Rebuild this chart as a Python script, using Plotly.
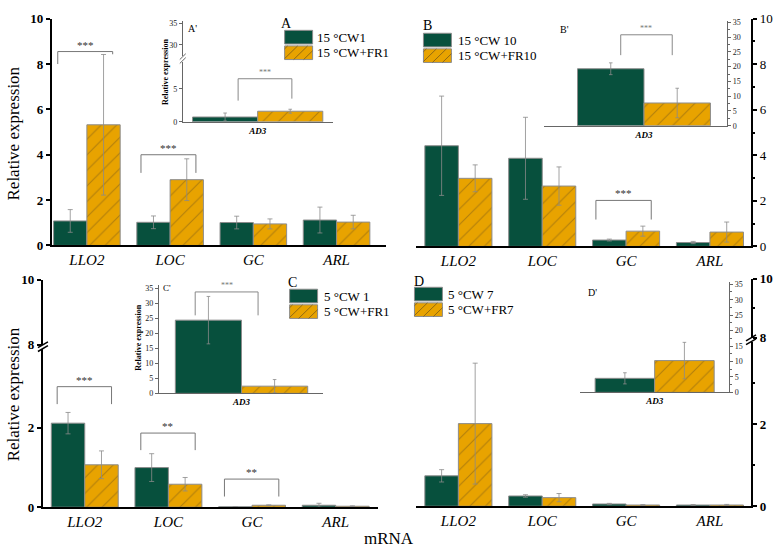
import plotly.graph_objects as go

W, H = 773, 560
GREEN = "#07503d"
ORANGE = "#e8a300"
EDGE = "#8c8c8c"
HATCH = "#7a5a18"
ERR = "#8a8a8a"
FONT = "Liberation Serif"

genes = ["LLO2", "LOC", "GC", "ARL"]
inset_gene = ["AD3"]
legend_labels = {
    "A": ["15 °CW1", "15 °CW+FR1"],
    "B": ["15 °CW 10", "15 °CW+FR10"],
    "C": ["5 °CW 1", "5 °CW+FR1"],
    "D": ["5 °CW 7", "5 °CW+FR7"],
}

# main panels (mean, sd)
A_cw = [1.08, 1.02, 1.01, 1.12]
A_cw_err = [0.50, 0.28, 0.28, 0.57]
A_fr = [5.32, 2.90, 0.95, 1.03]
A_fr_err = [3.10, 0.92, 0.22, 0.30]

B_cw = [4.42, 3.87, 0.28, 0.17]
B_cw_err = [2.18, 1.80, 0.04, 0.05]
B_fr = [2.99, 2.65, 0.67, 0.63]
B_fr_err = [0.59, 0.84, 0.22, 0.44]

C_cw = [2.12, 1.00, 0.01, 0.05]
C_cw_err = [0.27, 0.35, 0.005, 0.05]
C_fr = [1.07, 0.58, 0.05, 0.025]
C_fr_err = [0.35, 0.17, 0.01, 0.01]

D_cw = [0.74, 0.25, 0.055, 0.03]
D_cw_err = [0.15, 0.03, 0.015, 0.01]
D_fr = [2.01, 0.21, 0.03, 0.03]
D_fr_err = [1.47, 0.10, 0.01, 0.015]

# insets AD3
A_ad3 = [0.73, 1.60]
A_ad3_err = [0.60, 0.30]
B_ad3 = [19.3, 7.7]
B_ad3_err = [2.0, 5.0]
C_ad3 = [24.4, 2.4]
C_ad3_err = [7.9, 2.2]
D_ad3 = [4.55, 10.3]
D_ad3_err = [1.8, 5.9]

# significance: (gene, bracket level, left leg end, right leg end, label)
sig_A = [("LLO2", 8.55, 8.0, 8.43, "***"), ("LOC", 4.0, 3.2, 3.2, "***")]
sig_B = [("GC", 2.02, 1.18, 1.18, "***")]
sig_C = [("LLO2", 3.04, 2.6, 2.6, "***"), ("LOC", 1.87, 1.44, 1.44, "**"), ("GC", 0.71, 0.27, 0.27, "**")]
sig_Ai = [("AD3", 6.5, 3.2, 3.5, "***")]
sig_Bi = [("AD3", 30.8, 23.9, 23.9, "***")]
sig_Ci = [("AD3", 33.8, 26.0, 26.0, "***")]

fig = go.Figure()
layout = {}
shapes = []
annotations = []
counters = {"x": 0, "y": 0}


def px(x):
    return x / W


def py(y):
    return 1 - y / H


def new_id(kind):
    counters[kind] += 1
    n = counters[kind]
    return (kind if n == 1 else f"{kind}{n}"), (f"{kind}axis" if n == 1 else f"{kind}axis{n}")


def add_bars(xid, yid, cats, cw, cw_err, fr, fr_err, cap=2.5):
    x = list(range(len(cats)))
    fig.add_bar(x=x, y=cw, offset=-0.4, width=0.4, xaxis=xid, yaxis=yid, showlegend=False,
                marker=dict(color=GREEN, line=dict(color=EDGE, width=1)),
                error_y=dict(type="data", array=cw_err, color=ERR, thickness=0.8, width=cap))
    fig.add_bar(x=x, y=fr, offset=0, width=0.4, xaxis=xid, yaxis=yid, showlegend=False,
                marker=dict(color=ORANGE, line=dict(color=EDGE, width=1),
                            pattern=dict(shape="/", fgcolor=HATCH, size=11, solidity=0.1)),
                error_y=dict(type="data", array=fr_err, color=ERR, thickness=0.8, width=cap))


def add_sig(xid, yid, cats, sigs, left, right, color, size, shift, star_color):
    for gene, level, lend, rend, label in sigs:
        c = cats.index(gene)
        fig.add_scatter(x=[c + left, c + left, c + right, c + right], y=[lend, level, level, rend],
                        mode="lines", line=dict(color=color, width=1), xaxis=xid, yaxis=yid,
                        showlegend=False, hoverinfo="skip")
        annotations.append(dict(text=label, x=c + (left + right) / 2, y=level, xref=xid, yref=yid,
                                showarrow=False, yshift=shift, xanchor="center", yanchor="middle",
                                font=dict(family=FONT, size=size, color=star_color)))


def panel(x0, x1, xr, segs, side, cats, data, inset=False, bold=False, minor=None):
    xid, xkey = new_id("x")
    yids = []
    if inset:
        lc, lw, tf, tl = "#666666", 1, dict(family=FONT, size=8, color="#222222"), 3
    else:
        lc, lw, tl = "black", 2, 4
        tf = dict(family=FONT, size=13, color="black", weight="bold" if bold else "normal")
    for i, (ybot, ytop, rng, tvals) in enumerate(segs):
        yid, ykey = new_id("y")
        ax = dict(domain=[py(ybot), py(ytop)], range=rng, anchor=xid, side=side, tickvals=tvals,
                  ticks="outside", ticklen=tl, tickwidth=lw if not inset else 1, tickcolor=lc,
                  showline=True, linewidth=lw, linecolor=lc, showgrid=False, zeroline=False,
                  tickfont=tf, fixedrange=True)
        if minor is not None and minor[i]:
            ax["minor"] = dict(tickvals=minor[i], ticks="outside", ticklen=2 if not inset else 1.5,
                               tickwidth=lw if not inset else 1, tickcolor=lc)
        layout[ykey] = ax
        yids.append(yid)
    if inset:
        xtf = dict(family=FONT, size=9, color="black")
        ttext = [f"<b><i>{g}</i></b>" for g in cats]
    else:
        xtf = dict(family=FONT, size=15, color="black")
        ttext = [f"<i>{g}</i>" for g in cats]
    layout[xkey] = dict(domain=[px(x0), px(x1)], range=xr, anchor=yids[0],
                        tickvals=list(range(len(cats))), ticktext=ttext, ticks="",
                        showline=True, linewidth=lw, linecolor=lc if inset else "black",
                        showgrid=False, zeroline=False, tickfont=xtf, fixedrange=True)
    add_bars(xid, yids[0], cats, *data, cap=1.8 if inset else 2.5)
    for yid in yids[1:]:
        fig.add_scatter(x=[], y=[], xaxis=xid, yaxis=yid, showlegend=False, hoverinfo="skip")
    return xid, yids


def ann(text, x, y, size, color="black", xanchor="center", **kw):
    annotations.append(dict(text=text, x=px(x), y=py(y), xref="paper", yref="paper", showarrow=False,
                            xanchor=xanchor, yanchor="middle",
                            font=dict(family=FONT, size=size, color=color), **kw))


def legend(key, lx, ly, box_x, box_y0, text_x):
    ann(key, lx, ly, 14)
    bw, bh = 28, 14
    labels = legend_labels[key]
    for k, (fill, lab) in enumerate(zip([GREEN, ORANGE], labels)):
        y0 = box_y0 + k * (bh + 2)
        shapes.append(dict(type="rect", xref="paper", yref="paper", x0=px(box_x), x1=px(box_x + bw),
                           y0=py(y0 + bh), y1=py(y0), fillcolor=fill, line=dict(color=EDGE, width=1)))
        if k == 1:
            path = ""
            step = 10
            a = box_x - bh + 3
            while a < box_x + bw:
                t0 = max(0, box_x - a)
                t1 = min(bh, box_x + bw - a)
                if t1 > t0:
                    path += f"M{px(a + t0)},{py(y0 + bh - t0)} L{px(a + t1)},{py(y0 + bh - t1)} "
                a += step
            shapes.append(dict(type="path", xref="paper", yref="paper", path=path,
                               line=dict(color=HATCH, width=0.8)))
        ann(lab, text_x, y0 + bh / 2, 13, xanchor="left")


def brk(x, y, color="black", w=5, width=1.5):
    for dy in (-2, 2):
        shapes.append(dict(type="line", xref="paper", yref="paper", x0=px(x - w), y0=py(y + dy + 3),
                           x1=px(x + w), y1=py(y + dy - 3), line=dict(color=color, width=width)))


# ---- panel A ----
xa, ya = panel(52, 387, [-0.42, 3.6], [(245, 12, [0, 10], [0, 2, 4, 6, 8, 10])], "left", genes,
               (A_cw, A_cw_err, A_fr, A_fr_err), bold=True)
add_sig(xa, ya[0], genes, sig_A, -0.35, 0.31, "#777777", 11, 7, "#333333")
xai, yai = panel(183, 333, [-0.46, 0.46], [(118, 56, [0, 9.1], [0, 5]), (50, 14, [27.5, 35.7], [30, 35])],
                 "left", inset_gene, (A_ad3[:1], A_ad3_err[:1], A_ad3[1:], A_ad3_err[1:]), inset=True)
add_sig(xai, yai[0], inset_gene, sig_Ai, -0.12, 0.21, "#888888", 8, 6, "#777777")
brk(183, 53, "#666666", 3, 1)

# ---- panel B ----
xb, yb = panel(417, 752, [-0.5, 3.49], [(246, 12, [0, 10], [0, 2, 4, 6, 8, 10])], "right", genes,
               (B_cw, B_cw_err, B_fr, B_fr_err), minor=[[1, 3, 5, 7, 9]])
add_sig(xb, yb[0], genes, sig_B, -0.36, 0.3, "#777777", 11, 7, "#333333")
xbi, ybi = panel(545, 728, [-0.6, 0.5], [(122, 14, [0, 35.6], [0, 5, 10, 15, 20, 25, 30, 35])], "right",
                 inset_gene, (B_ad3[:1], B_ad3_err[:1], B_ad3[1:], B_ad3_err[1:]), inset=True,
                 minor=[[2.5, 7.5, 12.5, 17.5, 22.5, 27.5, 32.5]])
add_sig(xbi, ybi[0], inset_gene, sig_Bi, -0.14, 0.17, "#888888", 8, 6, "#777777")

# ---- panel C ----
xc, yc = panel(43, 378, [-0.5, 3.5], [(514, 351, [0, 4], [0, 2]), (347, 280, [8, 10], [8, 10])], "left",
               genes, (C_cw, C_cw_err, C_fr, C_fr_err), bold=True)
add_sig(xc, yc[0], genes, sig_C, -0.33, 0.32, "#777777", 11, 7, "#333333")
brk(43, 349)
xci, yci = panel(159, 323, [-0.5, 0.49], [(397, 286, [0, 36], [0, 5, 10, 15, 20, 25, 30, 35])], "left",
                 inset_gene, (C_ad3[:1], C_ad3_err[:1], C_ad3[1:], C_ad3_err[1:]), inset=True)
add_sig(xci, yci[0], inset_gene, sig_Ci, -0.28, 0.1, "#888888", 8, 6, "#777777")

# ---- panel D ----
xd, yd = panel(417, 752, [-0.5, 3.49], [(513, 344, [0, 4], [0, 2]), (340, 279, [8, 10], [8, 10])], "right",
               genes, (D_cw, D_cw_err, D_fr, D_fr_err), bold=True, minor=[[1, 3], [9]])
brk(752, 342)
xdi, ydi = panel(581, 730, [-0.5, 0.5], [(396, 283, [0, 35.6], [0, 5, 10, 15, 20, 25, 30, 35])], "right",
                 inset_gene, (D_ad3[:1], D_ad3_err[:1], D_ad3[1:], D_ad3_err[1:]), inset=True,
                 minor=[[2.5, 7.5, 12.5, 17.5, 22.5, 27.5, 32.5]])

# legends and labels
legend("A", 287, 17, 285, 24, 315)
legend("B", 428, 19, 424, 27, 457)
legend("C", 293, 283, 290, 290, 322)
legend("D", 420, 282, 415, 288, 447)
ann("A'", 193, 22, 10)
ann("B'", 565, 23, 10)
ann("C'", 167, 289, 9)
ann("D'", 593, 293, 10)
ann("<b>Relative expression</b>", 165, 67, 8, textangle=-90)
ann("<b>Relative expression</b>", 139, 340, 8, textangle=-90)
ann("Relative expression", 14, 130, 17, textangle=-90)
ann("Relative expression", 13, 398, 17, textangle=-90)
ann("mRNA", 390, 546, 17)

fig.update_layout(**layout)
fig.update_layout(
    width=W, height=H, autosize=False,
    margin=dict(l=0, r=0, t=0, b=0),
    barmode="overlay",
    paper_bgcolor="white", plot_bgcolor="rgba(0,0,0,0)",
    shapes=shapes, annotations=annotations,
    showlegend=False,
    font=dict(family=FONT),
)
fig.write_html("out.html", config={"displayModeBar": False},
               post_script="document.body.style.margin='0px';document.body.style.overflow='hidden';")
